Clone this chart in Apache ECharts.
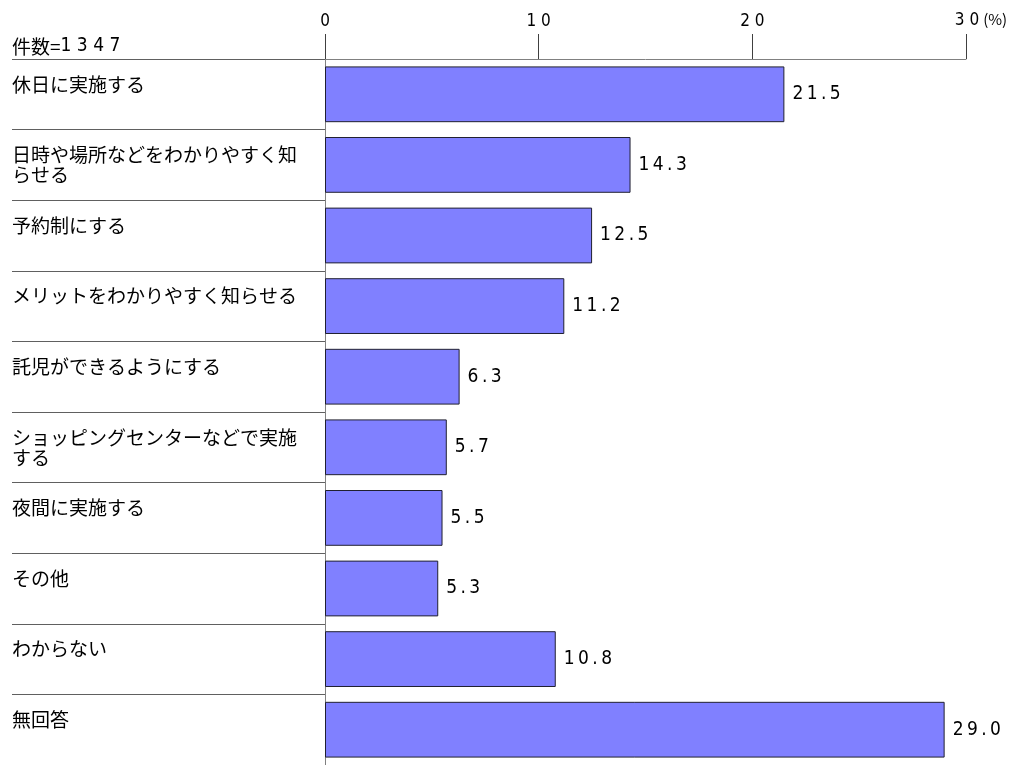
<!DOCTYPE html>
<html><head><meta charset="utf-8">
<script src="https://cdn.jsdelivr.net/npm/echarts@6/dist/echarts.min.js"></script>
<style>html,body{margin:0;padding:0;background:#fff}#c{width:1014px;height:765px}</style>
</head><body><div id="c"></div>
<script>
const categories = [
  '休日に実施する',
  '日時や場所などをわかりやすく知\nらせる',
  '予約制にする',
  'メリットをわかりやすく知らせる',
  '託児ができるようにする',
  'ショッピングセンターなどで実施\nする',
  '夜間に実施する',
  'その他',
  'わからない',
  '無回答'
];
const values = [21.5, 14.3, 12.5, 11.2, 6.3, 5.7, 5.5, 5.3, 10.8, 29.0];
const totalCount = 1347;
const xTicks = [0, 10, 20, 30];

const JP = '"Noto Sans CJK JP", sans-serif';
// pick a narrow digit font if one is installed
function hasFont(name) {
  const c = document.createElement('canvas').getContext('2d');
  const s = '0123456789.';
  c.font = '40px monospace'; const a = c.measureText(s).width;
  c.font = '40px "' + name + '", monospace'; const b = c.measureText(s).width;
  c.font = '40px serif'; const a2 = c.measureText(s).width;
  c.font = '40px "' + name + '", serif'; const b2 = c.measureText(s).width;
  return a !== b || a2 !== b2;
}
let NUM = '"Liberation Sans", sans-serif', narrow = false;
for (const f of ['Liberation Sans Narrow', 'DejaVu Sans Condensed', 'Arial Narrow']) {
  if (hasFont(f)) { NUM = '"' + f + '", sans-serif'; narrow = true; break; }
}
const valSize = narrow ? 19 : 17;
const axSize = narrow ? 17 : 16;
const spaced = (s, sep) => String(s).split('').join(sep);

const chart = echarts.init(document.getElementById('c'), null, {renderer: 'canvas'});
chart.setOption({
  animation: false,
  title: {
    text: '{a|件数=}{b|' + spaced(totalCount, ' ') + '}',
    left: 12, top: 37, padding: 0,
    textStyle: {
      fontWeight: 'normal',
      rich: {
        a: {fontFamily: JP, fontSize: 19, fontWeight: 'normal', color: '#000'},
        b: {fontFamily: NUM, fontSize: valSize, fontWeight: 'normal', color: '#000'}
      }
    }
  },
  grid: {left: 325, right: 48, top: 59, bottom: -6, containLabel: false},
  xAxis: {
    type: 'value', position: 'top', min: xTicks[0], max: xTicks[xTicks.length - 1], interval: 10,
    axisLine: {show: true, lineStyle: {color: '#808080', width: 1}},
    axisTick: {show: true, length: 25, lineStyle: {color: '#404040', width: 1}},
    splitLine: {show: false},
    axisLabel: {
      margin: 29,
      formatter: function (v) {
        if (v === xTicks[xTicks.length - 1]) return '{n2|' + spaced(v, ' ') + '}{p|(%)}';
        return '{n|' + spaced(v, ' ') + '}';
      },
      rich: {
        n: {fontFamily: NUM, fontSize: axSize, color: '#000'},
        n2: {fontFamily: NUM, fontSize: axSize, color: '#000', padding: [0, 0, 0, 30]},
        p: {fontFamily: JP, fontSize: 15, color: '#000', padding: [0, 0, 3, 4]}
      }
    }
  },
  yAxis: {
    type: 'category', inverse: true, data: categories,
    axisLine: {show: true, lineStyle: {color: '#808080', width: 1}},
    axisTick: {show: true, length: 313, lineStyle: {color: '#606060', width: 1}},
    axisLabel: {
      align: 'left', margin: 313, fontFamily: JP, fontSize: 19, lineHeight: 20, color: '#000',
      formatter: function (v) { return v.indexOf('\n') < 0 ? v + '\n ' : v; }
    }
  },
  series: [{
    type: 'bar', data: values, barCategoryGap: '21%',
    itemStyle: {color: '#8080FF', borderColor: '#202030', borderWidth: 1},
    label: {
      show: true, position: 'right', distance: 8,
      fontFamily: NUM, fontSize: valSize, color: '#000',
      formatter: function (p) { return spaced(p.value.toFixed(1), '\u2009'); }
    }
  }]
});
</script></body></html>
